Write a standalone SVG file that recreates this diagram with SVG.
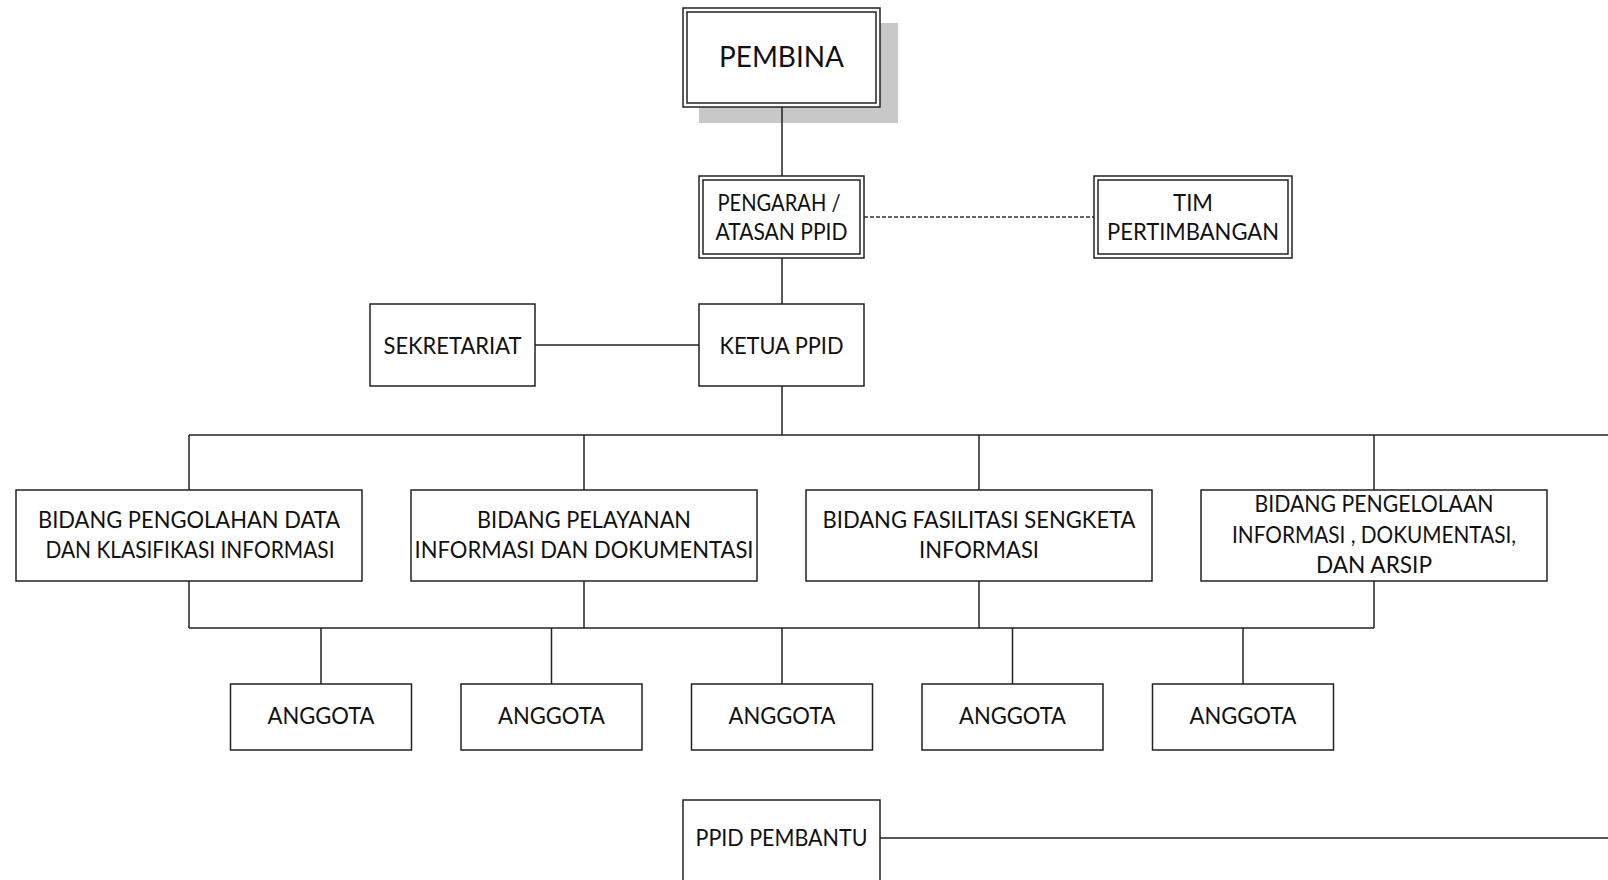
<svg xmlns="http://www.w3.org/2000/svg" width="1608" height="880" viewBox="0 0 1608 880">
<style>
.box{fill:#fff;stroke:#222;stroke-width:1.5}
.dbl{fill:none;stroke:#222;stroke-width:1.5}
.ln{fill:none;stroke:#222;stroke-width:1.5}
.dash{fill:none;stroke:#333;stroke-width:1.4;stroke-dasharray:4 2}
.t{font-family:Lato,"Open Sans","Liberation Sans",sans-serif;font-size:24px;fill:#111;text-anchor:middle}
.big{font-size:28px}
</style>
<rect x="0" y="0" width="1608" height="880" fill="#fff"/>
<g id="connectors">
<line class="ln" x1="782" y1="107" x2="782" y2="177"/>
<line class="dash" x1="864" y1="217" x2="1094" y2="217"/>
<line class="ln" x1="782" y1="258" x2="782" y2="304"/>
<line class="ln" x1="535" y1="345" x2="699" y2="345"/>
<line class="ln" x1="782" y1="386" x2="782" y2="435"/>
<line class="ln" x1="189" y1="435" x2="1608" y2="435"/>
<line class="ln" x1="189" y1="435" x2="189" y2="490"/>
<line class="ln" x1="584" y1="435" x2="584" y2="490"/>
<line class="ln" x1="979" y1="435" x2="979" y2="490"/>
<line class="ln" x1="1374" y1="435" x2="1374" y2="490"/>
<line class="ln" x1="189" y1="581" x2="189" y2="628"/>
<line class="ln" x1="584" y1="581" x2="584" y2="628"/>
<line class="ln" x1="979" y1="581" x2="979" y2="628"/>
<line class="ln" x1="1374" y1="581" x2="1374" y2="628"/>
<line class="ln" x1="189" y1="628" x2="1374" y2="628"/>
<line class="ln" x1="321" y1="628" x2="321" y2="684"/>
<line class="ln" x1="551.5" y1="628" x2="551.5" y2="684"/>
<line class="ln" x1="782" y1="628" x2="782" y2="684"/>
<line class="ln" x1="1012.5" y1="628" x2="1012.5" y2="684"/>
<line class="ln" x1="1243" y1="628" x2="1243" y2="684"/>
<line class="ln" x1="880" y1="838" x2="1608" y2="838"/>
</g>
<g id="pembina">
<rect x="699" y="23" width="199" height="100" fill="#c8c8c8"/>
<line class="ln" x1="782" y1="107" x2="782" y2="123"/>
<rect class="box" x="683" y="8" width="197" height="99"/>
<rect class="dbl" x="687" y="12" width="189" height="91"/>
<text class="t big" x="781.5" y="67" textLength="125" lengthAdjust="spacingAndGlyphs">PEMBINA</text>
</g>
<g id="pengarah">
<rect class="box" x="699" y="176" width="165" height="82"/>
<rect class="dbl" x="703" y="180" width="157" height="74"/>
<text class="t" x="779" y="211" textLength="123" lengthAdjust="spacingAndGlyphs">PENGARAH /</text>
<text class="t" x="781.5" y="240" textLength="132" lengthAdjust="spacingAndGlyphs">ATASAN PPID</text>
</g>
<g id="tim">
<rect class="box" x="1094" y="176" width="198" height="82"/>
<rect class="dbl" x="1098" y="180" width="190" height="74"/>
<text class="t" x="1193" y="211" textLength="40" lengthAdjust="spacingAndGlyphs">TIM</text>
<text class="t" x="1193" y="240" textLength="172" lengthAdjust="spacingAndGlyphs">PERTIMBANGAN</text>
</g>
<g id="sekretariat">
<rect class="box" x="370" y="304" width="165" height="82"/>
<text class="t" x="452.5" y="354" textLength="138" lengthAdjust="spacingAndGlyphs">SEKRETARIAT</text>
</g>
<g id="ketua">
<rect class="box" x="699" y="304" width="165" height="82"/>
<text class="t" x="781.5" y="354" textLength="124" lengthAdjust="spacingAndGlyphs">KETUA PPID</text>
</g>
<g id="bidang1">
<rect class="box" x="16" y="490" width="346" height="91"/>
<text class="t" x="189" y="528" textLength="302" lengthAdjust="spacingAndGlyphs">BIDANG PENGOLAHAN DATA</text>
<text class="t" x="190" y="558" textLength="289" lengthAdjust="spacingAndGlyphs">DAN KLASIFIKASI INFORMASI</text>
</g>
<g id="bidang2">
<rect class="box" x="411" y="490" width="346" height="91"/>
<text class="t" x="584" y="528" textLength="214" lengthAdjust="spacingAndGlyphs">BIDANG PELAYANAN</text>
<text class="t" x="584" y="558" textLength="339" lengthAdjust="spacingAndGlyphs">INFORMASI DAN DOKUMENTASI</text>
</g>
<g id="bidang3">
<rect class="box" x="806" y="490" width="346" height="91"/>
<text class="t" x="979" y="528" textLength="313" lengthAdjust="spacingAndGlyphs">BIDANG FASILITASI SENGKETA</text>
<text class="t" x="979" y="558" textLength="120" lengthAdjust="spacingAndGlyphs">INFORMASI</text>
</g>
<g id="bidang4">
<rect class="box" x="1201" y="490" width="346" height="91"/>
<text class="t" x="1374" y="512" textLength="239" lengthAdjust="spacingAndGlyphs">BIDANG PENGELOLAAN</text>
<text class="t" x="1374" y="543" textLength="284" lengthAdjust="spacingAndGlyphs">INFORMASI , DOKUMENTASI,</text>
<text class="t" x="1374" y="573" textLength="116" lengthAdjust="spacingAndGlyphs">DAN ARSIP</text>
</g>
<g id="anggota1">
<rect class="box" x="230.5" y="684" width="181" height="66"/>
<text class="t" x="321" y="724" textLength="107" lengthAdjust="spacingAndGlyphs">ANGGOTA</text>
</g>
<g id="anggota2">
<rect class="box" x="461" y="684" width="181" height="66"/>
<text class="t" x="551.5" y="724" textLength="107" lengthAdjust="spacingAndGlyphs">ANGGOTA</text>
</g>
<g id="anggota3">
<rect class="box" x="691.5" y="684" width="181" height="66"/>
<text class="t" x="782" y="724" textLength="107" lengthAdjust="spacingAndGlyphs">ANGGOTA</text>
</g>
<g id="anggota4">
<rect class="box" x="922" y="684" width="181" height="66"/>
<text class="t" x="1012.5" y="724" textLength="107" lengthAdjust="spacingAndGlyphs">ANGGOTA</text>
</g>
<g id="anggota5">
<rect class="box" x="1152.5" y="684" width="181" height="66"/>
<text class="t" x="1243" y="724" textLength="107" lengthAdjust="spacingAndGlyphs">ANGGOTA</text>
</g>
<g id="ppid-pembantu">
<rect class="box" x="683" y="800" width="197" height="100"/>
<text class="t" x="781.5" y="846" textLength="172" lengthAdjust="spacingAndGlyphs">PPID PEMBANTU</text>
</g>
</svg>
